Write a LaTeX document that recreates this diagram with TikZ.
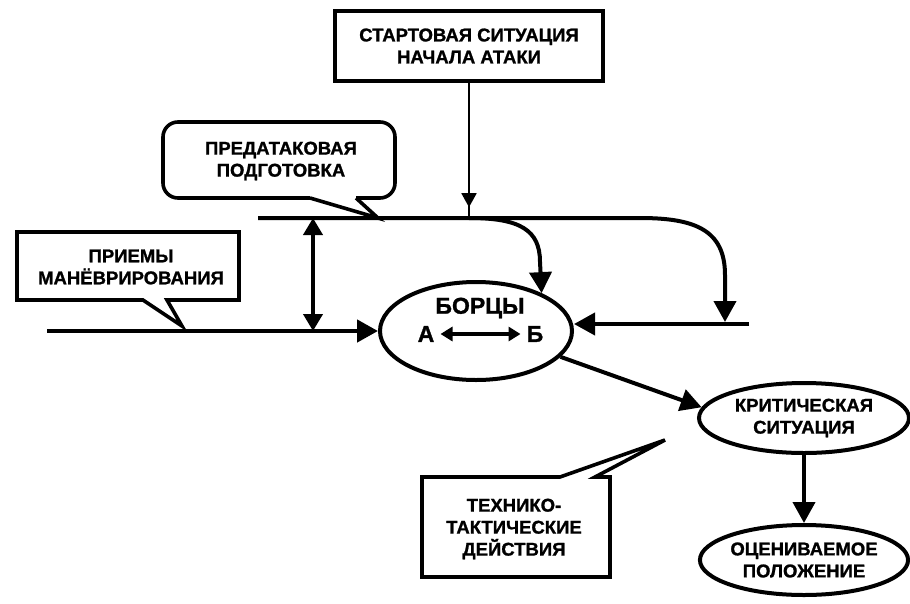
\documentclass[tikz,border=0pt]{standalone}
\usepackage{fontspec}
\setmainfont{Liberation Sans}[BoldFeatures={FakeBold=1.2}]
\usepackage{tikz}
\usetikzlibrary{shapes.geometric, arrows.meta, decorations.markings, positioning}

\tikzset{
    lbl/.style = {font=\fontsize{18.5}{22}\selectfont\bfseries, align=center, inner sep=0pt},
    big/.style = {font=\fontsize{23}{26}\selectfont\bfseries},
    box/.style = {lbl, draw, line width=4.5pt},
    oval/.style = {lbl, ellipse, draw, line width=4pt},
    callout/.style = {line width=3.6pt, line join=miter},
    main/.style = {line width=4pt},
    bigarr/.style = {-{Triangle[length=21pt,width=22pt]}},
    dblarr/.style = {{Triangle[length=17pt,width=19pt]}-{Triangle[length=17pt,width=19pt]}},
    midarr/.style = {line width=1.8pt, postaction={decorate},
        decoration={markings, mark=at position 0.92 with {\arrow{Triangle[length=14pt,width=15pt]}}}}
}

\begin{document}
\begin{tikzpicture}[x=1pt, y=-1pt]
    \useasboundingbox (0,0) rectangle (910,603);
    % Punti (aiuto)
    \coordinate (upL) at (258,218);
    \coordinate (upJ) at (469,218);
    \coordinate (upR) at (640,218);
    \coordinate (loL) at (47,331);
    \coordinate (rtR) at (749,324);
    \coordinate (rtA) at (725,322);
    \coordinate (dblT) at (313,218);
    \coordinate (dblB) at (313,331);
    % Nodi
    \node[box, minimum width=268pt, minimum height=70pt] (start) at (469,46) {СТАРТОВАЯ СИТУАЦИЯ\\НАЧАЛА АТАКИ};
    \node[oval, minimum width=192pt, minimum height=98pt] (borcy) at (476,331) {};
    \node[lbl, big] (bname) at (480,308) {БОРЦЫ};
    \node[lbl, big, inner sep=6pt] (wa) at (426,334) {А};
    \node[lbl, big, inner sep=6pt] (wb) at (535,334) {Б};
    \node[oval, minimum width=210pt, minimum height=70pt] (crit) at (804,418) {КРИТИЧЕСКАЯ\\СИТУАЦИЯ};
    \node[oval, minimum width=206pt, minimum height=70pt] (eval) at (804,560) {ОЦЕНИВАЕМОЕ\\ПОЛОЖЕНИЕ};
    % Callout
    \node[lbl] (prep) at (281,161) {ПРЕДАТАКОВАЯ\\ПОДГОТОВКА};
    \draw[callout, rounded corners=15pt] (310,198) -- (163,198) -- (163,122) -- (395,122) -- (395,198) -- (356,198);
    \draw[callout] (310,198) -- (378,218) -- (356,198);
    \node[lbl] (manv) at (131,267) {ПРИЕМЫ\\МАНЁВРИРОВАНИЯ};
    \draw[callout] (143,300) -- (17,300) -- (17,232) -- (239,232) -- (239,300) -- (167,300) -- (182,326) -- cycle;
    \node[lbl] (tech) at (514,529) {ТЕХНИКО-\\ТАКТИЧЕСКИЕ\\ДЕЙСТВИЯ};
    \draw[callout] (560,477) -- (422,477) -- (422,577) -- (610,577) -- (610,477) -- (595,477) -- (665,440) -- cycle;
    % Linee
    \draw[midarr] (start.south) -- (upJ);
    \draw[main, bigarr] (upL) -- (upR) .. controls +(55,0) and +(0,-45) .. (725,275) -- (rtA);
    \draw[main, bigarr] (upJ) .. controls (520,218) and (540,230) .. (540,262) -- (borcy.30);
    \draw[main, bigarr] (rtR) -- (rtR -| borcy.east);
    \draw[main, line width=4.5pt, bigarr] (loL) -- (borcy.west);
    \draw[main, dblarr] (dblT) -- (dblB);
    \draw[main, {Triangle[length=12pt,width=14pt]}-{Triangle[length=12pt,width=14pt]}] (wa) -- (wb);
    \draw[main, bigarr] (borcy.-17) -- (crit.174);
    \draw[main, bigarr] (crit.south) -- (eval.north);
\end{tikzpicture}
\end{document}
